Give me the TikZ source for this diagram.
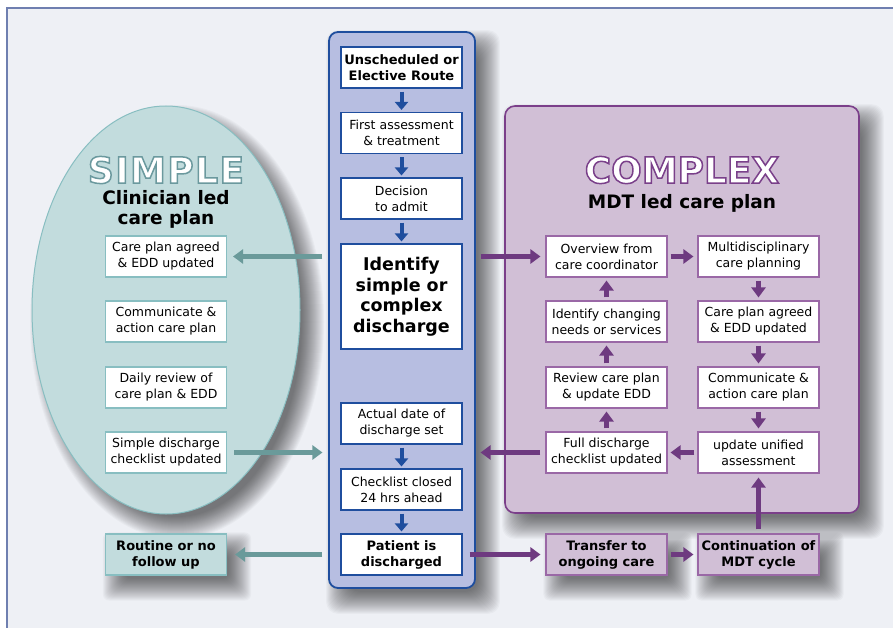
\documentclass[tikz,border=0pt]{standalone}
\usepackage{fontspec}
\setmainfont{DejaVu Sans}
\usetikzlibrary{shapes,arrows.meta}
\definecolor{pagebg}{HTML}{EEF0F5}
\definecolor{pageline}{HTML}{6F7FB0}
\definecolor{routefill}{HTML}{B7BEE1}
\definecolor{routeblue}{HTML}{1F4E9E}
\definecolor{simplefill}{HTML}{C2DCDD}
\definecolor{simpleline}{HTML}{88BEC1}
\definecolor{simplearrow}{HTML}{6A9A9A}
\definecolor{complexfill}{HTML}{D1BFD6}
\definecolor{complexline}{HTML}{7B3F8A}
\definecolor{complexarrow}{HTML}{6E3A80}
\definecolor{complexbox}{HTML}{9A68A6}
\pgfdeclarelayer{back}
\pgfdeclarelayer{shadowlayer}
\pgfsetlayers{back,shadowlayer,main}
% outlined lettering: white fill, coloured stroke
\newcommand{\outlined}[2]{\special{pdf:literal direct 2 Tr 1.5 w #1 RG}#2\special{pdf:literal direct 0 Tr}}
% soft shadow under a named node
\newcommand{\boxshadow}[2][6pt]{%
  \foreach \e in {13,12,...,-9}{%
    \fill[black,opacity=0.027,rounded corners=#1] ([shift={(11-\e,12-\e)}]#2.north west) rectangle ([shift={(11+\e,12+\e)}]#2.south east);}}

\begin{document}
\begin{tikzpicture}[x=1pt,y=-1pt]
      \tikzstyle{cbox}=[rectangle,draw=routeblue,line width=1.1pt,fill=white,minimum width=121pt,minimum height=41pt,inner sep=0pt,align=center,font=\fontsize{12.5}{16}\selectfont]
      \tikzstyle{sbox}=[cbox,draw=simpleline]
      \tikzstyle{mbox}=[cbox,draw=complexbox]
      \tikzstyle{boldtext}=[font=\bfseries\fontsize{13}{16}\selectfont]
      \tikzstyle{titletext}=[text=white,inner sep=0pt,font=\bfseries\fontsize{36}{36}\selectfont]
      \tikzstyle{barrow}=[-{Triangle[width=13pt,length=8pt]},line width=4pt,draw=routeblue,shorten <=3pt,shorten >=2pt]
      \tikzstyle{tarrow}=[-{Triangle[width=14pt,length=10pt]},line width=5pt,draw=simplearrow]
      \tikzstyle{parrow}=[-{Triangle[width=14pt,length=10pt]},line width=5pt,draw=complexarrow]
      \useasboundingbox (0,0) rectangle (893,628);
      \begin{pgfonlayer}{back}
        \fill[white] (0,0) rectangle (893,628);
        \fill[pagebg] (7,8) rectangle (900,640);
        \draw[pageline,line width=2pt] (7,640) -- (7,8) -- (900,8);
      \end{pgfonlayer}
      % panels
      \node[ellipse,fill=simplefill,draw=simpleline,line width=1pt,minimum width=268pt,minimum height=408pt,inner sep=0pt] (simpleoval) at (166,310) {};
      \node[rectangle,rounded corners=9pt,fill=routefill,draw=routeblue,line width=1.8pt,minimum width=146pt,minimum height=556pt,inner sep=0pt] (route) at (402,310) {};
      \node[rectangle,rounded corners=10pt,fill=complexfill,draw=complexline,line width=1.6pt,minimum width=354pt,minimum height=407pt,inner sep=0pt] (mdt) at (682,309.5) {};
      % titles
      \node[titletext,font=\bfseries\fontsize{36}{36}\selectfont\addfontfeature{LetterSpace=4}] (simpletitle) at (166,170) {\outlined{0.42 0.60 0.62}{SIMPLE}};
      \node[align=center,font=\bfseries\fontsize{18.5}{20}\selectfont] (simplesub) at (166,209) {Clinician led\\care plan};
      \node[titletext] (complextitle) at (682,170) {\outlined{0.48 0.25 0.54}{COMPLEX}};
      \node[font=\bfseries\fontsize{18.5}{20}\selectfont] (complexsub) at (682,203) {MDT led care plan};
      % central route
      \node[cbox,boldtext] (b1) at (401.5,67.5) {Unscheduled or\\Elective Route};
      \node[cbox] (b2) at (401.5,133) {First assessment\\\& treatment};
      \node[cbox] (b3) at (401.5,198.5) {Decision\\to admit};
      \node[cbox,minimum height=105pt,font=\bfseries\fontsize{17.5}{20.5}\selectfont] (b4) at (401.5,296.5) {Identify\\simple or\\complex\\discharge};
      \node[cbox] (b5) at (401.5,423.5) {Actual date of\\discharge set};
      \node[cbox] (b6) at (401.5,489.5) {Checklist closed\\24 hrs ahead};
      \node[cbox,boldtext] (b7) at (401.5,554.5) {Patient is\\discharged};
      % simple side
      \node[sbox] (l1) at (166,256.5) {Care plan agreed\\\& EDD updated};
      \node[sbox] (l2) at (166,321.5) {Communicate \&\\action care plan};
      \node[sbox] (l3) at (166,387.5) {Daily review of\\care plan \& EDD};
      \node[sbox] (l4) at (166,452.5) {Simple discharge\\checklist updated};
      \node[sbox,fill=simplefill,boldtext] (rt) at (166,554.5) {Routine or no\\follow up};
      % complex side
      \node[mbox] (ov) at (606.5,256.5) {Overview from\\care coordinator};
      \node[mbox] (ic) at (606.5,321.5) {Identify changing\\needs or services};
      \node[mbox] (rv) at (606.5,387.5) {Review care plan\\\& update EDD};
      \node[mbox] (fd) at (606.5,452.5) {Full discharge\\checklist updated};
      \node[mbox] (mp) at (758.5,256.5) {Multidisciplinary\\care planning};
      \node[mbox] (ca) at (758.5,321.5) {Care plan agreed\\\& EDD updated};
      \node[mbox] (ac) at (758.5,387.5) {Communicate \&\\action care plan};
      \node[mbox] (uu) at (758.5,452.5) {update unified\\assessment};
      \node[mbox,fill=complexfill,boldtext] (tr) at (606.5,554.5) {Transfer to\\ongoing care};
      \node[mbox,fill=complexfill,boldtext] (co) at (758.5,554.5) {Continuation of\\MDT cycle};
      % shadows
      \begin{pgfonlayer}{shadowlayer}
        \foreach \e in {13,12,...,-9}
          \fill[black,opacity=0.027] (177,322) ellipse ({134+\e} and {204+\e});
        \boxshadow[12pt]{route}
        \boxshadow[12pt]{mdt}
        \boxshadow{rt}
        \boxshadow{tr}
        \boxshadow{co}
      \end{pgfonlayer}
      % connectors
      \draw[barrow] (b1) -- (b2);
      \draw[barrow] (b2) -- (b3);
      \draw[barrow] (b3) -- (b4);
      \draw[barrow] (b5) -- (b6);
      \draw[barrow] (b6) -- (b7);
      \draw[tarrow,shorten <=18pt,shorten >=6pt] (b4.west |- l1) -- (l1.east);
      \draw[tarrow,shorten <=7pt,shorten >=18pt] (l4.east) -- (b5.west |- l4);
      \draw[tarrow,shorten <=18pt,shorten >=8pt] (b7.west) -- (rt.east);
      \draw[parrow,shorten <=18pt,shorten >=5pt] (b4.east |- ov) -- (ov.west);
      \draw[parrow,shorten <=3pt,shorten >=4pt] (ov) -- (mp);
      \draw[parrow,shorten <=3pt,shorten >=3pt] (mp) -- (ca);
      \draw[parrow,shorten <=3pt,shorten >=3pt] (ca) -- (ac);
      \draw[parrow,shorten <=3pt,shorten >=3pt] (ac) -- (uu);
      \draw[parrow,shorten <=3pt,shorten >=3pt] (uu) -- (fd);
      \draw[parrow,shorten <=3pt,shorten >=3pt] (fd) -- (rv);
      \draw[parrow,shorten <=3pt,shorten >=3pt] (rv) -- (ic);
      \draw[parrow,shorten <=3pt,shorten >=3pt] (ic) -- (ov);
      \draw[parrow,shorten <=5pt,shorten >=18pt] (fd.west) -- (b5.east |- fd);
      \draw[parrow,shorten <=7pt,shorten >=5pt] (b7.east) -- (tr.west);
      \draw[parrow,shorten <=3pt,shorten >=4pt] (tr) -- (co);
      \draw[parrow,shorten <=4pt,shorten >=4pt] (co) -- (uu);
    \end{tikzpicture}
\end{document}
